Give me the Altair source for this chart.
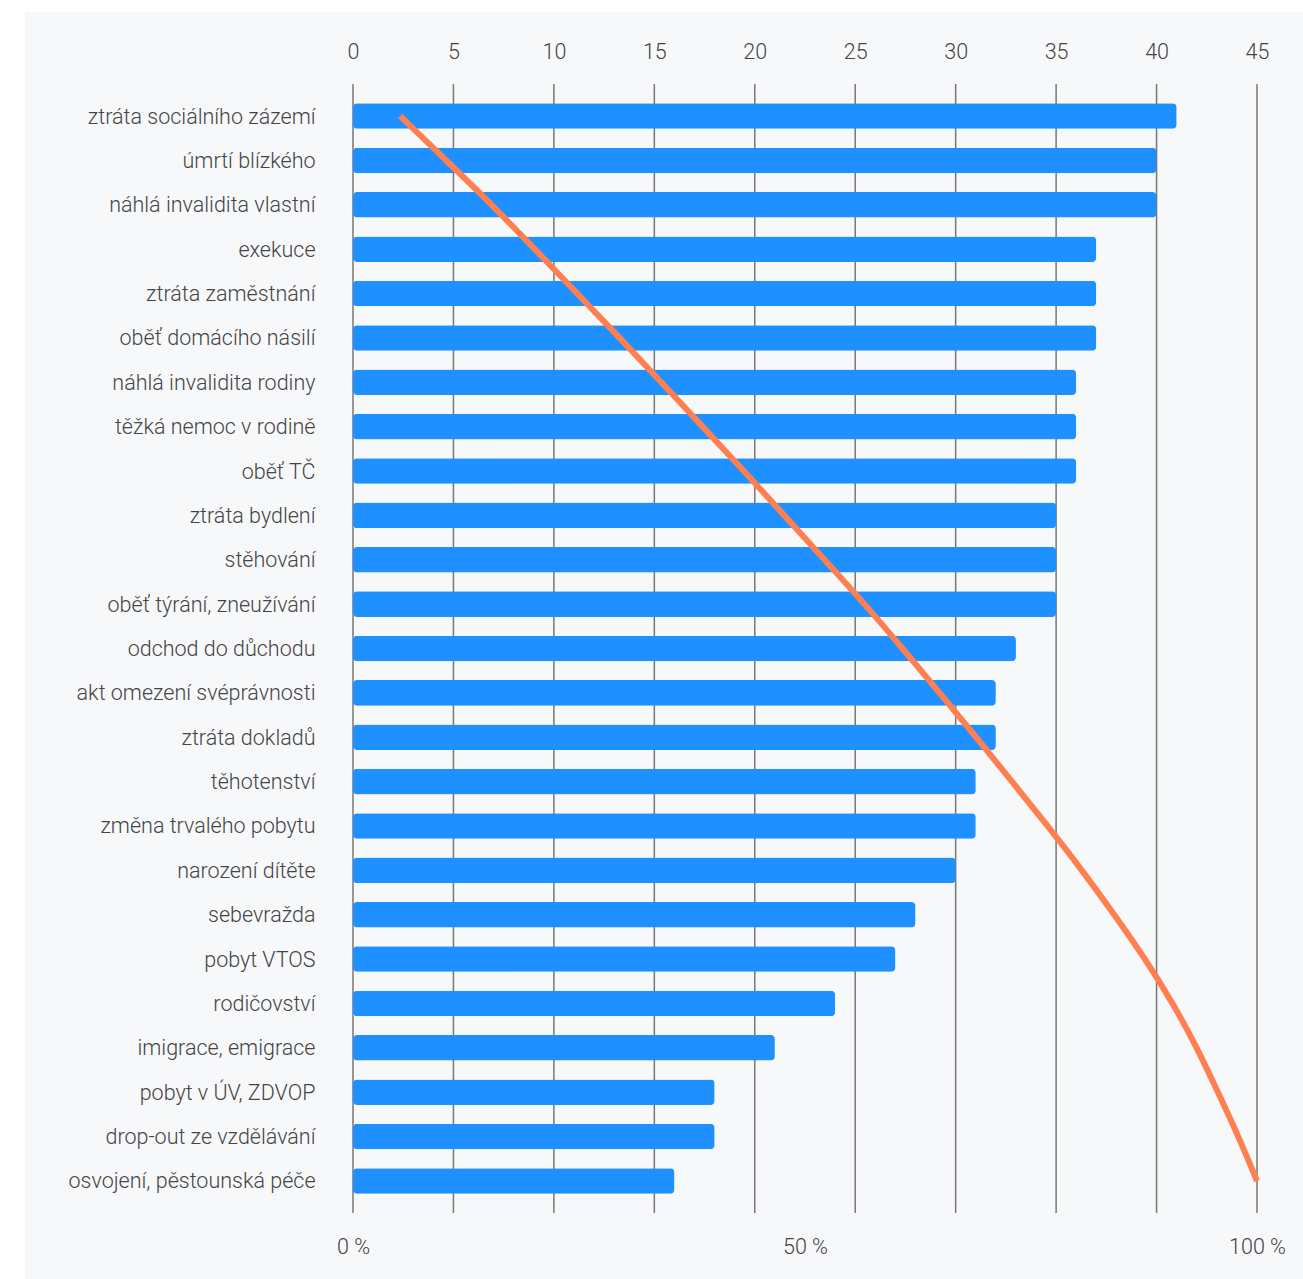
import altair as alt
import pandas as pd

categories = [
    "ztráta sociálního zázemí", "úmrtí blízkého", "náhlá invalidita vlastní",
    "exekuce", "ztráta zaměstnání", "oběť domácího násilí",
    "náhlá invalidita rodiny", "těžká nemoc v rodině", "oběť TČ",
    "ztráta bydlení", "stěhování", "oběť týrání, zneužívání",
    "odchod do důchodu", "akt omezení svéprávnosti", "ztráta dokladů",
    "těhotenství", "změna trvalého pobytu", "narození dítěte",
    "sebevražda", "pobyt VTOS", "rodičovství", "imigrace, emigrace",
    "pobyt v ÚV, ZDVOP", "drop-out ze vzdělávání", "osvojení, pěstounská péče",
]
values = [41, 40, 40, 37, 37, 37, 36, 36, 36, 35, 35, 35, 33, 32, 32,
          31, 31, 30, 28, 27, 24, 21, 18, 18, 16]
top_ticks = [0, 5, 10, 15, 20, 25, 30, 35, 40, 45]
bottom_ticks = [0, 50, 100]

W, H = 904, 1129
FONT = "Roboto"
FS = 21.5
LABEL_COLOR = "#444444"

df = pd.DataFrame({"cat": categories, "value": values, "idx": list(range(len(categories)))})
grid_df = pd.DataFrame({"tick": top_ticks})
bg_df = pd.DataFrame({"a": [0]})

yenc = alt.Y(
    "cat:N",
    sort=categories,
    scale=alt.Scale(paddingInner=0.425, paddingOuter=0.434),
    axis=alt.Axis(
        title=None, ticks=False, domain=False, grid=False, zindex=1,
        labelFontSize=FS, labelFont=FONT, labelFontWeight=300,
        labelColor=LABEL_COLOR, labelPadding=38, labelLimit=400,
        labelOffset=1.5,
    ),
)

bg = alt.Chart(bg_df).mark_rect(color="#f7f8fa").encode(
    x=alt.value(-328), x2=alt.value(950), y=alt.value(-72), y2=alt.value(1195)
)

grid = alt.Chart(grid_df).mark_rule(color="#777777", strokeWidth=1.5).encode(
    x=alt.X("tick:Q", scale=alt.Scale(domain=[0, 45], nice=False), axis=None)
)

bars = alt.Chart(df).mark_bar(color="#1e90ff", cornerRadius=4).encode(
    x=alt.X(
        "value:Q",
        scale=alt.Scale(domain=[0, 45], nice=False),
        axis=alt.Axis(
            orient="top", values=top_ticks, title=None, grid=False, ticks=False,
            domain=False, zindex=1, labelFontSize=FS, labelFont=FONT,
            labelFontWeight=300, labelColor=LABEL_COLOR, labelPadding=21,
            labelFlush=False,
        ),
    ),
    y=yenc,
)

line = alt.Chart(df).transform_window(
    cum="sum(value)", sort=[alt.SortField("idx")], frame=[None, 0]
).transform_joinaggregate(
    total="sum(value)"
).transform_calculate(
    pct="datum.cum / datum.total * 100"
).mark_line(color="#ff7f50", strokeWidth=6, interpolate="basis").encode(
    x=alt.X(
        "pct:Q",
        scale=alt.Scale(domain=[0, 100], nice=False),
        axis=alt.Axis(
            orient="bottom", values=bottom_ticks, title=None, grid=False,
            ticks=False, domain=False, zindex=1, labelFontSize=FS, labelFont=FONT,
            labelFontWeight=300, labelColor=LABEL_COLOR, labelPadding=23,
            labelFlush=False, labelExpr="datum.value + ' %'",
        ),
    ),
    y=alt.Y("cat:N", sort=categories),
    order=alt.Order("idx:Q"),
)

chart = alt.layer(bg, grid, bars, line).resolve_scale(x="independent").properties(
    width=W, height=H,
    padding={"left": 25, "top": 12, "right": 0, "bottom": 0},
    background="white",
).configure_view(stroke=None)

chart.save("out.html", embed_options={"renderer": "svg", "actions": False})
